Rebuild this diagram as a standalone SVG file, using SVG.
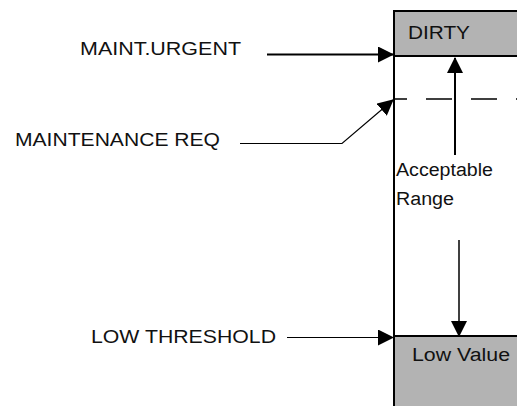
<svg xmlns="http://www.w3.org/2000/svg" width="517" height="406" viewBox="0 0 517 406">
<style>
text{font-family:"Liberation Sans",Arial,sans-serif;font-size:18px;fill:#111}
.band{fill:#b3b3b3;stroke:#000;stroke-width:2}
.ln{fill:none;stroke:#000}
</style>
<defs>
<marker id="ah" markerUnits="userSpaceOnUse" markerWidth="16" markerHeight="16" viewBox="0 0 16 16" refX="15" refY="8" orient="auto">
<path d="M0,0 L16,8 L0,16 z" fill="#000"/>
</marker>
</defs>
<rect x="0" y="0" width="517" height="406" fill="#fff"/>
<g id="gauge">
<rect class="band" x="394" y="11" width="130" height="45"/>
<rect class="band" x="394" y="336" width="130" height="80"/>
<line class="ln" x1="394" y1="56" x2="394" y2="336" stroke-width="2"/>
<line class="ln" x1="394" y1="99" x2="517" y2="99" stroke-width="1.5" stroke-dasharray="26 19" stroke-dashoffset="13"/>
</g>
<g id="dirty"><text x="408" y="39" textLength="62" lengthAdjust="spacingAndGlyphs">DIRTY</text></g>
<g id="low-value"><text x="412" y="361" textLength="98" lengthAdjust="spacingAndGlyphs">Low Value</text></g>
<g id="range"><text x="396" y="176" textLength="97" lengthAdjust="spacingAndGlyphs">Acceptable</text><text x="396" y="205" textLength="58" lengthAdjust="spacingAndGlyphs">Range</text></g>
<g id="maint-urgent"><text x="80" y="55" textLength="161" lengthAdjust="spacingAndGlyphs">MAINT.URGENT</text></g>
<g id="maintenance-req"><text x="15" y="146" textLength="205" lengthAdjust="spacingAndGlyphs">MAINTENANCE REQ</text></g>
<g id="low-threshold"><text x="91" y="343" textLength="185" lengthAdjust="spacingAndGlyphs">LOW THRESHOLD</text></g>
<g id="connectors">
<line class="ln" x1="267" y1="54.5" x2="393" y2="54.5" stroke-width="2" marker-end="url(#ah)"/>
<polyline class="ln" points="240,143.5 342,143.5 393,100" stroke-width="1.2" marker-end="url(#ah)"/>
<line class="ln" x1="287" y1="337.5" x2="393" y2="337.5" stroke-width="1.2" marker-end="url(#ah)"/>
<line class="ln" x1="455" y1="155" x2="455" y2="58" stroke-width="2" marker-end="url(#ah)"/>
<line class="ln" x1="459" y1="240" x2="459" y2="336" stroke-width="1.5" marker-end="url(#ah)"/>
</g>
</svg>
